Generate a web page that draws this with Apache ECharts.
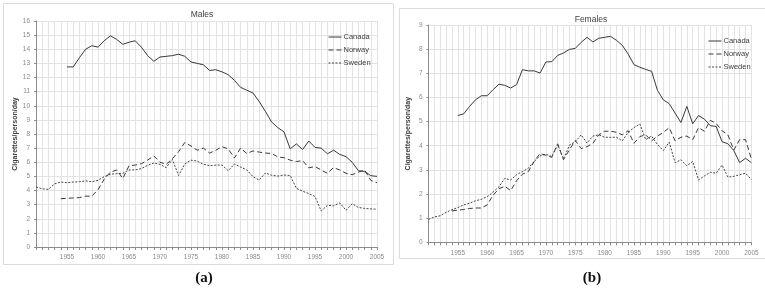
<!DOCTYPE html>
<html><head><meta charset="utf-8">
<script src="https://cdn.jsdelivr.net/npm/echarts@6/dist/echarts.min.js"></script>
<style>html,body{margin:0;padding:0;background:#fff}#c{width:765px;height:290px}</style>
</head><body><div id="c"></div>
<script>
const years = [];
for (let y = 1950; y <= 2005; y++) years.push(String(y));

const canadaMales = [null,null,null,null,null,
 12.75,12.75,13.4,14.0,14.25, 14.15,14.6,14.95,14.7,14.35, 14.5,14.6,14.15,13.55,13.15,
 13.45,13.5,13.55,13.65,13.5, 13.1,13.0,12.9,12.5,12.55, 12.4,12.2,11.8,11.3,11.1,
 10.9,10.3,9.6,8.85,8.45, 8.15,6.95,7.3,6.9,7.5, 7.05,7.0,6.6,6.85,6.55,
 6.4,6.0,5.4,5.35,5.05, 5.0];
const norwayMales = [null,null,null,null,
 3.42,3.45,3.47,3.5,3.6, 3.6,4.05,4.8,5.3,5.45,4.85, 5.75,5.8,5.9,6.15,6.45,
 6.0,5.85,6.25,6.75,7.4, 7.15,6.85,7.0,6.65,6.85, 7.1,6.95,6.3,7.0,6.62,
 6.8,6.72,6.65,6.62,6.38, 6.32,6.15,6.05,6.12,5.6, 5.7,5.45,5.22,5.62,5.45,
 5.22,5.12,5.3,5.45,4.72, 4.55];
const swedenMales = [
 4.25,4.12,4.08,4.47,4.6, 4.55,4.6,4.62,4.68,4.62, 4.72,4.98,5.15,5.2,5.22,
 5.45,5.46,5.55,5.78,5.95, 5.85,5.62,6.2,5.06,5.88, 6.15,6.08,5.86,5.76,5.8,
 5.8,5.4,5.88,5.66,5.46, 4.98,4.74,5.24,5.08,5.02, 5.1,5.06,4.15,3.95,3.78,
 3.58,2.55,2.95,2.92,3.12, 2.6,3.06,2.8,2.73,2.7, 2.67];

const canadaFemales = [null,null,null,null,null,
 5.25,5.32,5.63,5.9,6.07, 6.07,6.32,6.55,6.5,6.39, 6.53,7.15,7.1,7.1,7.01,
 7.47,7.48,7.74,7.84,7.99, 8.03,8.28,8.49,8.3,8.45, 8.49,8.53,8.37,8.16,7.8,
 7.36,7.25,7.16,7.08,6.29, 5.9,5.74,5.35,4.96,5.63, 4.91,5.25,5.1,4.83,4.8,
 4.17,4.08,3.8,3.3,3.48, 3.3];
const norwayFemales = [null,null,null,null,
 1.3,1.33,1.36,1.4,1.42, 1.42,1.55,1.95,2.22,2.32, 2.14,2.55,2.82,2.93,3.35,
 3.68,3.6,3.52,4.08,3.42, 3.83,4.22,3.88,3.96,4.1, 4.45,4.6,4.6,4.56,4.45,
 4.62,4.1,4.38,4.45,4.2, 4.4,4.55,4.75,4.2,4.35, 4.4,4.25,4.75,4.6,5.05,
 4.92,4.62,4.45,3.82,4.25, 4.25,3.45];
const swedenFemales = [
 0.95,1.05,1.1,1.24,1.35, 1.44,1.55,1.62,1.72,1.78, 1.89,2.08,2.3,2.65,2.58,
 2.8,2.93,3.07,3.35,3.58, 3.65,3.55,4.04,3.45,4.02, 4.17,4.45,4.11,4.4,4.45,
 4.35,4.35,4.35,4.2,4.55, 4.75,4.9,4.25,4.4,4.05, 3.8,4.15,3.3,3.42,3.17,
 3.35,2.58,2.75,2.9,2.86, 3.2,2.7,2.73,2.8,2.86, 2.6];

const seriesNames = ['Canada','Norway','Sweden'];
const panelTitles = ['Males','Females'];
const captions = ['(a)','(b)'];
const yAxisName = 'Cigarettes/person/day';

const font = 'Liberation Sans';
const lineStyles = [
  {color:'#3a3a3a', width:1, type:'solid'},
  {color:'#3a3a3a', width:1, type:[5,3]},
  {color:'#444', width:1, type:[2,1.5]}
];
function xAxis(gi){
  return {
    type:'category', gridIndex:gi, data:years, boundaryGap:false,
    axisLine:{lineStyle:{color:'#8c8c8c',width:1}},
    axisTick:{show:true, interval:0, length:3, lineStyle:{color:'#8c8c8c'}},
    axisLabel:{interval:function(i,v){return (+v)%5===0 && v!=='1950';}, fontSize:6.5, color:'#8a8a8a', fontFamily:font, margin:7, showMaxLabel:true},
    splitLine:{show:true, interval:0, lineStyle:{color:'#e3e3e3',width:1}}
  };
}
function yAxis(gi,max){
  return {
    type:'value', gridIndex:gi, min:0, max:max, interval:1,
    name:yAxisName, nameLocation:'middle', nameGap:17, nameRotate:90,
    nameTextStyle:{fontSize:7, fontWeight:'bold', color:'#404040', fontFamily:font},
    axisLine:{show:true, lineStyle:{color:'#8c8c8c'}},
    axisTick:{show:true, length:2, lineStyle:{color:'#8c8c8c'}},
    axisLabel:{fontSize:6.5, color:'#8a8a8a', fontFamily:font, margin:6},
    splitLine:{show:true, lineStyle:{color:'#e3e3e3',width:1}}
  };
}
function mk(name, data, idx, gi){
  return {name:name, type:'line', xAxisIndex:gi, yAxisIndex:gi, data:data,
    symbol:'none', showSymbol:false, connectNulls:false, lineStyle:lineStyles[idx], itemStyle:{color:lineStyles[idx].color}, animation:false};
}
function legendData(){
  return seriesNames.map((n,i)=>({name:n, itemStyle:{opacity:0}, lineStyle:{type:lineStyles[i].type, width:1, color:lineStyles[i].color}}));
}
const option = {
  animation:false,
  backgroundColor:'#fff',
  title:[
    {text:panelTitles[0], left:197, top:5, textAlign:'center', textStyle:{fontSize:8.5, fontWeight:'normal', color:'#404040', fontFamily:font}},
    {text:panelTitles[1], left:586, top:10, textAlign:'center', textStyle:{fontSize:8.5, fontWeight:'normal', color:'#404040', fontFamily:font}},
    {text:captions[0], left:199, top:266, textAlign:'center', textStyle:{fontSize:15, fontWeight:'bold', color:'#111', fontFamily:'Liberation Serif'}},
    {text:captions[1], left:587, top:266, textAlign:'center', textStyle:{fontSize:15, fontWeight:'bold', color:'#111', fontFamily:'Liberation Serif'}}
  ],
  grid:[
    {left:36, right:388, top:21, bottom:43},
    {left:428.5, right:13.6, top:25, bottom:47.7}
  ],
  xAxis:[xAxis(0), xAxis(1)],
  yAxis:[yAxis(0,16), yAxis(1,9)],
  legend:[
    {data:legendData(), left:323, top:28, orient:'vertical', itemWidth:13, itemHeight:6, itemGap:5,
     itemStyle:{opacity:0},
     textStyle:{fontSize:7.5, color:'#404040', fontFamily:font, padding:[0,0,0,-3]}, selectedMode:false},
    {data:legendData(), left:703, top:32, orient:'vertical', itemWidth:13, itemHeight:6, itemGap:5,
     itemStyle:{opacity:0},
     textStyle:{fontSize:7.5, color:'#404040', fontFamily:font, padding:[0,0,0,-3]}, selectedMode:false}
  ],
  graphic:[
    {type:'rect', shape:{x:3.5,y:3.5,width:390,height:261}, style:{fill:null, stroke:'#dcdcdc', lineWidth:1}, silent:true, z:-1},
    {type:'rect', shape:{x:399.5,y:8.5,width:380,height:250}, style:{fill:null, stroke:'#dcdcdc', lineWidth:1}, silent:true, z:-1}
  ],
  series:[
    mk('Canada', canadaMales, 0, 0),
    mk('Norway', norwayMales, 1, 0),
    mk('Sweden', swedenMales, 2, 0),
    mk('Canada', canadaFemales, 0, 1),
    mk('Norway', norwayFemales, 1, 1),
    mk('Sweden', swedenFemales, 2, 1)
  ]
};
const chart = echarts.init(document.getElementById('c'), null, {renderer:'canvas'});
chart.setOption(option);
</script></body></html>
